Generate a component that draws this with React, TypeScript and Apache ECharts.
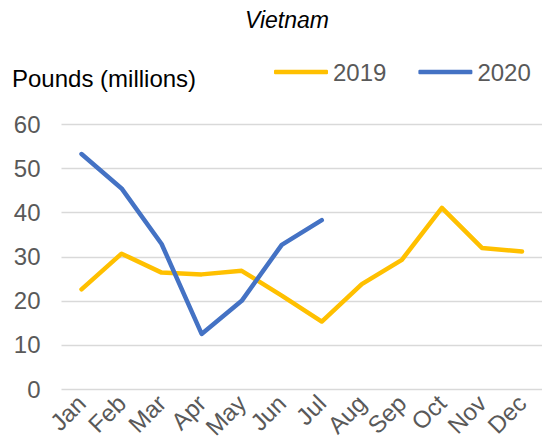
import React, { useEffect, useRef } from "react";
import * as echarts from "echarts";

const months = ["Jan", "Feb", "Mar", "Apr", "May", "Jun", "Jul", "Aug", "Sep", "Oct", "Nov", "Dec"];
const values2019 = [22.6, 30.7, 26.4, 26.0, 26.8, 21.2, 15.3, 23.8, 29.3, 41.1, 32.0, 31.2];
const values2020 = [53.3, 45.5, 32.9, 12.5, 20.0, 32.7, 38.3];
const seriesNames = ["2019", "2020"];
const colors = ["#FFC000", "#4472C4"];

export default function App() {
  const ref = useRef<HTMLDivElement>(null);
  useEffect(() => {
    if (!ref.current) return;
    const chart = echarts.init(ref.current, null, { renderer: "svg" });
    const font = "Liberation Sans";
    chart.setOption({
      animation: false,
      textStyle: { fontFamily: font },
      title: {
        text: "Vietnam",
        left: 287,
        textAlign: "center",
        top: 8,
        padding: 0,
        textStyle: { fontStyle: "italic", fontWeight: "normal", fontSize: 23, color: "#000", fontFamily: font },
      },
      graphic: [
        {
          type: "text",
          left: 12,
          top: 66,
          style: { text: "Pounds (millions)", fontSize: 24, fill: "#000", fontFamily: font },
        },
      ],
      legend: {
        left: 274,
        top: 60,
        padding: 0,
        itemWidth: 54,
        itemHeight: 4.5,
        itemGap: 32,
        icon: "roundRect",
        data: seriesNames,
        textStyle: { fontSize: 24, color: "#595959", fontFamily: font },
      },
      grid: { left: 61.5, right: 0, top: 124.5, bottom: 54, containLabel: false },
      xAxis: {
        type: "category",
        data: months,
        boundaryGap: true,
        axisLine: { show: false },
        axisTick: { show: false },
        axisLabel: { rotate: 45, fontSize: 24, color: "#595959", margin: 10, fontFamily: font, interval: 0 },
      },
      yAxis: {
        type: "value",
        min: 0,
        max: 60,
        interval: 10,
        axisLine: { show: false },
        axisTick: { show: false },
        axisLabel: { fontSize: 24, color: "#595959", margin: 21, fontFamily: font },
        splitLine: { lineStyle: { color: "#D9D9D9", width: 1.3 } },
      },
      series: [
        {
          name: seriesNames[0],
          type: "line",
          data: values2019,
          symbol: "none",
          lineStyle: { color: colors[0], width: 4.5, cap: "round", join: "round" },
          itemStyle: { color: colors[0] },
        },
        {
          name: seriesNames[1],
          type: "line",
          data: values2020,
          symbol: "none",
          lineStyle: { color: colors[1], width: 4.5, cap: "round", join: "round" },
          itemStyle: { color: colors[1] },
        },
      ],
    });
    return () => chart.dispose();
  }, []);
  return <div ref={ref} style={{ width: 542, height: 443, position: "absolute", left: 0, top: 0 }} />;
}
